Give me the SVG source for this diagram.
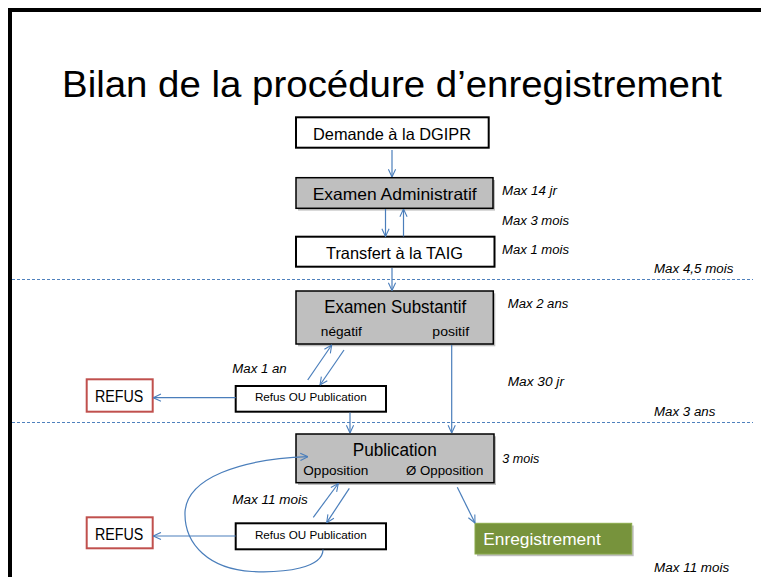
<svg xmlns="http://www.w3.org/2000/svg" width="761" height="577" viewBox="0 0 761 577">
<style>
  .box{fill:#fff;stroke:#000;stroke-width:2}
  .gray{fill:#bfbfbf;stroke:#000;stroke-width:1.5}
  .red{fill:#fff;stroke:#c0504d;stroke-width:2}
  .green{fill:#77933c;stroke:#8aaa4a;stroke-width:1}
  .shadow{fill:#000;opacity:0.25}
  .t{font-family:"Liberation Sans",Arial,sans-serif;fill:#000;text-anchor:middle}
  .lbl{font-family:"Liberation Sans",Arial,sans-serif;font-style:italic;font-size:12px;fill:#000}
  .conn{fill:none;stroke:#4a7ebb;stroke-width:1.2}
  .dash{fill:none;stroke:#4f81bd;stroke-width:1;stroke-dasharray:3 2}
</style>
<defs>
  <marker id="arr" viewBox="0 0 10 10" refX="9.5" refY="5" markerWidth="9" markerHeight="9" orient="auto" markerUnits="userSpaceOnUse">
    <polyline points="1,1 9.5,5 1,9" fill="none" stroke="#4a7ebb" stroke-width="1.2"/>
  </marker>
</defs>
<rect width="761" height="577" fill="#fff"/>
<path d="M10,577 L10,10 L761,10" fill="none" stroke="#000" stroke-width="4"/>
<text x="392" y="97" class="t" font-size="37" textLength="660" lengthAdjust="spacingAndGlyphs">Bilan de la procédure d’enregistrement</text>

<line class="dash" x1="12" y1="279.5" x2="753" y2="279.5"/>
<line class="dash" x1="12" y1="422.5" x2="753" y2="422.5"/>

<g id="demande">
  <rect class="box" x="296" y="117.3" width="192.7" height="30.4"/>
  <text class="t" x="392" y="140" font-size="16.5" textLength="158" lengthAdjust="spacingAndGlyphs">Demande à la DGIPR</text>
</g>
<g id="examen-admin">
  <rect class="shadow" x="298" y="180" width="197" height="30.6"/>
  <rect class="gray" x="296" y="177.7" width="197" height="30.6"/>
  <text class="t" x="394.7" y="199.5" font-size="16.5" textLength="164" lengthAdjust="spacingAndGlyphs">Examen Administratif</text>
</g>
<g id="transfert">
  <rect class="box" x="296" y="236.7" width="198.5" height="30"/>
  <text class="t" x="394.5" y="258.5" font-size="16.5" textLength="137" lengthAdjust="spacingAndGlyphs">Transfert à la TAIG</text>
</g>
<g id="examen-substantif">
  <rect class="shadow" x="298" y="293.3" width="197.3" height="53"/>
  <rect class="gray" x="296" y="291" width="197.3" height="53"/>
  <text class="t" x="395.2" y="313" font-size="17.5" textLength="142" lengthAdjust="spacingAndGlyphs">Examen Substantif</text>
  <text class="t" x="341.3" y="336" font-size="13" textLength="41" lengthAdjust="spacingAndGlyphs">négatif</text>
  <text class="t" x="450.7" y="336" font-size="13" textLength="36.7" lengthAdjust="spacingAndGlyphs">positif</text>
</g>
<g id="refus-pub-1">
  <rect class="box" x="235.7" y="386" width="150.3" height="25.7"/>
  <text class="t" x="310.8" y="401" font-size="10.5" textLength="111.7" lengthAdjust="spacingAndGlyphs">Refus OU Publication</text>
</g>
<g id="refus-1">
  <rect class="red" x="86.7" y="379.3" width="66" height="32.4"/>
  <text class="t" x="119.2" y="402" font-size="16" textLength="48.3" lengthAdjust="spacingAndGlyphs">REFUS</text>
</g>
<g id="publication">
  <rect class="shadow" x="298" y="436.3" width="198" height="48.7"/>
  <rect class="gray" x="296" y="434" width="198" height="48.7"/>
  <text class="t" x="394.7" y="456" font-size="17.5" textLength="84" lengthAdjust="spacingAndGlyphs">Publication</text>
  <text class="t" x="335.8" y="475" font-size="13" textLength="65" lengthAdjust="spacingAndGlyphs">Opposition</text>
  <text class="t" x="444.7" y="475" font-size="13" textLength="77.3" lengthAdjust="spacingAndGlyphs">Ø Opposition</text>
</g>
<g id="refus-pub-2">
  <rect class="box" x="235.7" y="523.3" width="150.3" height="26"/>
  <text class="t" x="310.8" y="539" font-size="10.5" textLength="111.7" lengthAdjust="spacingAndGlyphs">Refus OU Publication</text>
</g>
<g id="refus-2">
  <rect class="red" x="86.7" y="517.3" width="66" height="31"/>
  <text class="t" x="119.2" y="540" font-size="16" textLength="48.3" lengthAdjust="spacingAndGlyphs">REFUS</text>
</g>
<g id="enregistrement">
  <rect class="shadow" x="477" y="525.5" width="156.7" height="30.7"/>
  <rect class="green" x="475" y="523.3" width="156.7" height="30.7"/>
  <text x="483.3" y="545" font-family="Liberation Sans,Arial,sans-serif" font-size="17" fill="#fff" textLength="117.4" lengthAdjust="spacingAndGlyphs">Enregistrement</text>
</g>

<g id="connectors">
  <line class="conn" x1="392" y1="150" x2="392" y2="177" marker-end="url(#arr)"/>
  <line class="conn" x1="385.5" y1="209" x2="385.5" y2="236.5" marker-end="url(#arr)"/>
  <line class="conn" x1="403.5" y1="236.5" x2="403.5" y2="209" marker-end="url(#arr)"/>
  <line class="conn" x1="392" y1="268" x2="392" y2="290.5" marker-end="url(#arr)"/>
  <line class="conn" x1="307.7" y1="380" x2="331.7" y2="345" marker-end="url(#arr)"/>
  <line class="conn" x1="344" y1="350" x2="320" y2="385" marker-end="url(#arr)"/>
  <line class="conn" x1="451.7" y1="345" x2="451.7" y2="433" marker-end="url(#arr)"/>
  <line class="conn" x1="350" y1="412.5" x2="350" y2="433" marker-end="url(#arr)"/>
  <line class="conn" x1="235.7" y1="397.7" x2="153.3" y2="397.7" marker-end="url(#arr)"/>
  <line class="conn" x1="313.3" y1="517.3" x2="338.3" y2="483.5" marker-end="url(#arr)"/>
  <line class="conn" x1="349.3" y1="488.3" x2="326.7" y2="522.7" marker-end="url(#arr)"/>
  <line class="conn" x1="235.7" y1="536" x2="153.3" y2="536" marker-end="url(#arr)"/>
  <line class="conn" x1="457.3" y1="487.3" x2="475" y2="523" marker-end="url(#arr)"/>
  <path class="conn" d="M323,549.5 C323,568 285,573 252,571.5 C210,569 184,545 185,512 C187,478 240,459 308,456.7" marker-end="url(#arr)"/>
</g>

<g id="labels">
  <text class="lbl" x="502" y="195" textLength="55" lengthAdjust="spacingAndGlyphs">Max 14 jr</text>
  <text class="lbl" x="502" y="224.5" textLength="67" lengthAdjust="spacingAndGlyphs">Max 3 mois</text>
  <text class="lbl" x="502" y="254" textLength="67" lengthAdjust="spacingAndGlyphs">Max 1 mois</text>
  <text class="lbl" x="654" y="272.7" textLength="79.3" lengthAdjust="spacingAndGlyphs">Max 4,5 mois</text>
  <text class="lbl" x="507.7" y="308.3" textLength="60.6" lengthAdjust="spacingAndGlyphs">Max 2 ans</text>
  <text class="lbl" x="232.3" y="373" textLength="54.4" lengthAdjust="spacingAndGlyphs">Max 1 an</text>
  <text class="lbl" x="507.7" y="386" textLength="56.3" lengthAdjust="spacingAndGlyphs">Max 30 jr</text>
  <text class="lbl" x="654" y="415.7" textLength="61.3" lengthAdjust="spacingAndGlyphs">Max 3 ans</text>
  <text class="lbl" x="502.3" y="463.3" textLength="37" lengthAdjust="spacingAndGlyphs">3 mois</text>
  <text class="lbl" x="232.3" y="504.3" textLength="75.4" lengthAdjust="spacingAndGlyphs">Max 11 mois</text>
  <text class="lbl" x="654" y="571.7" textLength="75.3" lengthAdjust="spacingAndGlyphs">Max 11 mois</text>
</g>
</svg>
